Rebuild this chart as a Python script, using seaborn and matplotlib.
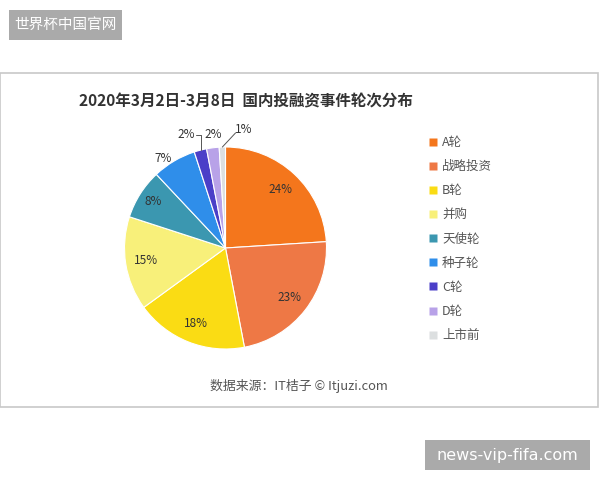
import numpy as np
import seaborn as sns
import matplotlib.pyplot as plt
from matplotlib.patches import Rectangle
from matplotlib.lines import Line2D

# data
rounds = ['A轮', '战略投资', 'B轮', '并购', '天使轮', '种子轮', 'C轮', 'D轮', '上市前']
shares = [24, 23, 18, 15, 8, 7, 2, 2, 1]
hex_colors = ['#F4761C', '#EE7845', '#FADC14', '#F8F07A', '#3B97B0',
              '#2F8EEA', '#4B3FC8', '#B8A2E8', '#DCDFE0']

sns.set_theme(style='white')
plt.rcParams['font.family'] = ['Noto Sans CJK SC', 'DejaVu Sans']
colors = sns.color_palette(hex_colors)

fig = plt.figure(figsize=(6, 4.8), dpi=100)
fig.patch.set_facecolor('white')

# panel border
fig.patches.append(Rectangle((0.0, 0.152), 0.997, 0.696, transform=fig.transFigure,
                             facecolor='none', edgecolor='#c8c8c8', lw=1.2, zorder=0))
# grey tag boxes
fig.patches.append(Rectangle((9 / 600, 1 - 40 / 480), 113 / 600, 30 / 480,
                             transform=fig.transFigure, facecolor='#aaaaaa',
                             edgecolor='none', zorder=1))
fig.text(65.5 / 600, 1 - 25 / 480, '世界杯中国官网', color='white', fontsize=10.5,
         ha='center', va='center', fontweight='light')
fig.patches.append(Rectangle((425 / 600, 1 - 470 / 480), 165 / 600, 30 / 480,
                             transform=fig.transFigure, facecolor='#aaaaaa',
                             edgecolor='none', zorder=1))
fig.text(507.5 / 600, 1 - 455.5 / 480, 'news-vip-fifa.com', color='white',
         fontsize=11.5, ha='center', va='center', family=['DejaVu Sans'])

# title and source
fig.text(246 / 600, 1 - 101 / 480, '2020年3月2日-3月8日  国内投融资事件轮次分布',
         fontsize=11.2, fontweight='bold', color='#333333', ha='center', va='center')
fig.text(299 / 600, 1 - 386 / 480, '数据来源：IT桔子 © Itjuzi.com',
         fontsize=9.3, color='#555555', ha='center', va='center')

# pie
r_px = 101
cx, cy = 225.5, 248
half = r_px * 1.3
ax = fig.add_axes([(cx - half) / 600, (480 - cy - half) / 480, 2 * half / 600, 2 * half / 480])
ax.patch.set_alpha(0)
wedges, _ = ax.pie(shares, colors=colors, startangle=90, counterclock=False,
                   wedgeprops=dict(edgecolor='white', linewidth=0.8))
ax.set_xlim(-1.3, 1.3)
ax.set_ylim(-1.3, 1.3)
ax.set_aspect('equal')
ax.axis('off')

# percent labels
cum = np.cumsum(shares) - np.array(shares) / 2
total = sum(shares)
outside = {5: (-0.62, 0.89), 6: (-0.39, 1.12), 7: (-0.12, 1.12), 8: (0.18, 1.17)}
for i, (s, c) in enumerate(zip(shares, cum)):
    theta = np.deg2rad(90 - 360 * c / total)
    ex, ey = np.cos(theta), np.sin(theta)
    label = f'{s}%'
    if i in outside:
        tx, ty = outside[i]
        ax.text(tx, ty, label, fontsize=8.5, color='#333333', ha='center', va='center')
        if i == 6:
            ax.plot([tx + 0.1, ex + 0.01, ex + 0.01], [ty, ty, ey], color='#555555', lw=0.7)
        if i == 8:
            ax.plot([tx - 0.08, ex], [ty - 0.03, ey], color='#555555', lw=0.7)
    else:
        d = 0.85 if i == 4 else 0.8
        ax.text(d * ex, d * ey, label, fontsize=8.5, color='#333333', ha='center', va='center')

# legend
handles = [Line2D([], [], marker='s', linestyle='none', markersize=5.5,
                  markerfacecolor=c, markeredgecolor='none') for c in colors]
leg = fig.legend(handles, rounds, loc='upper left', bbox_to_anchor=(424 / 600, 1 - 131 / 480),
                 frameon=False, fontsize=9, labelspacing=0.89, handlelength=0.6,
                 handletextpad=0.45, borderaxespad=0)
for t in leg.get_texts():
    t.set_color('#555555')

fig.savefig('out.png', dpi=100)
